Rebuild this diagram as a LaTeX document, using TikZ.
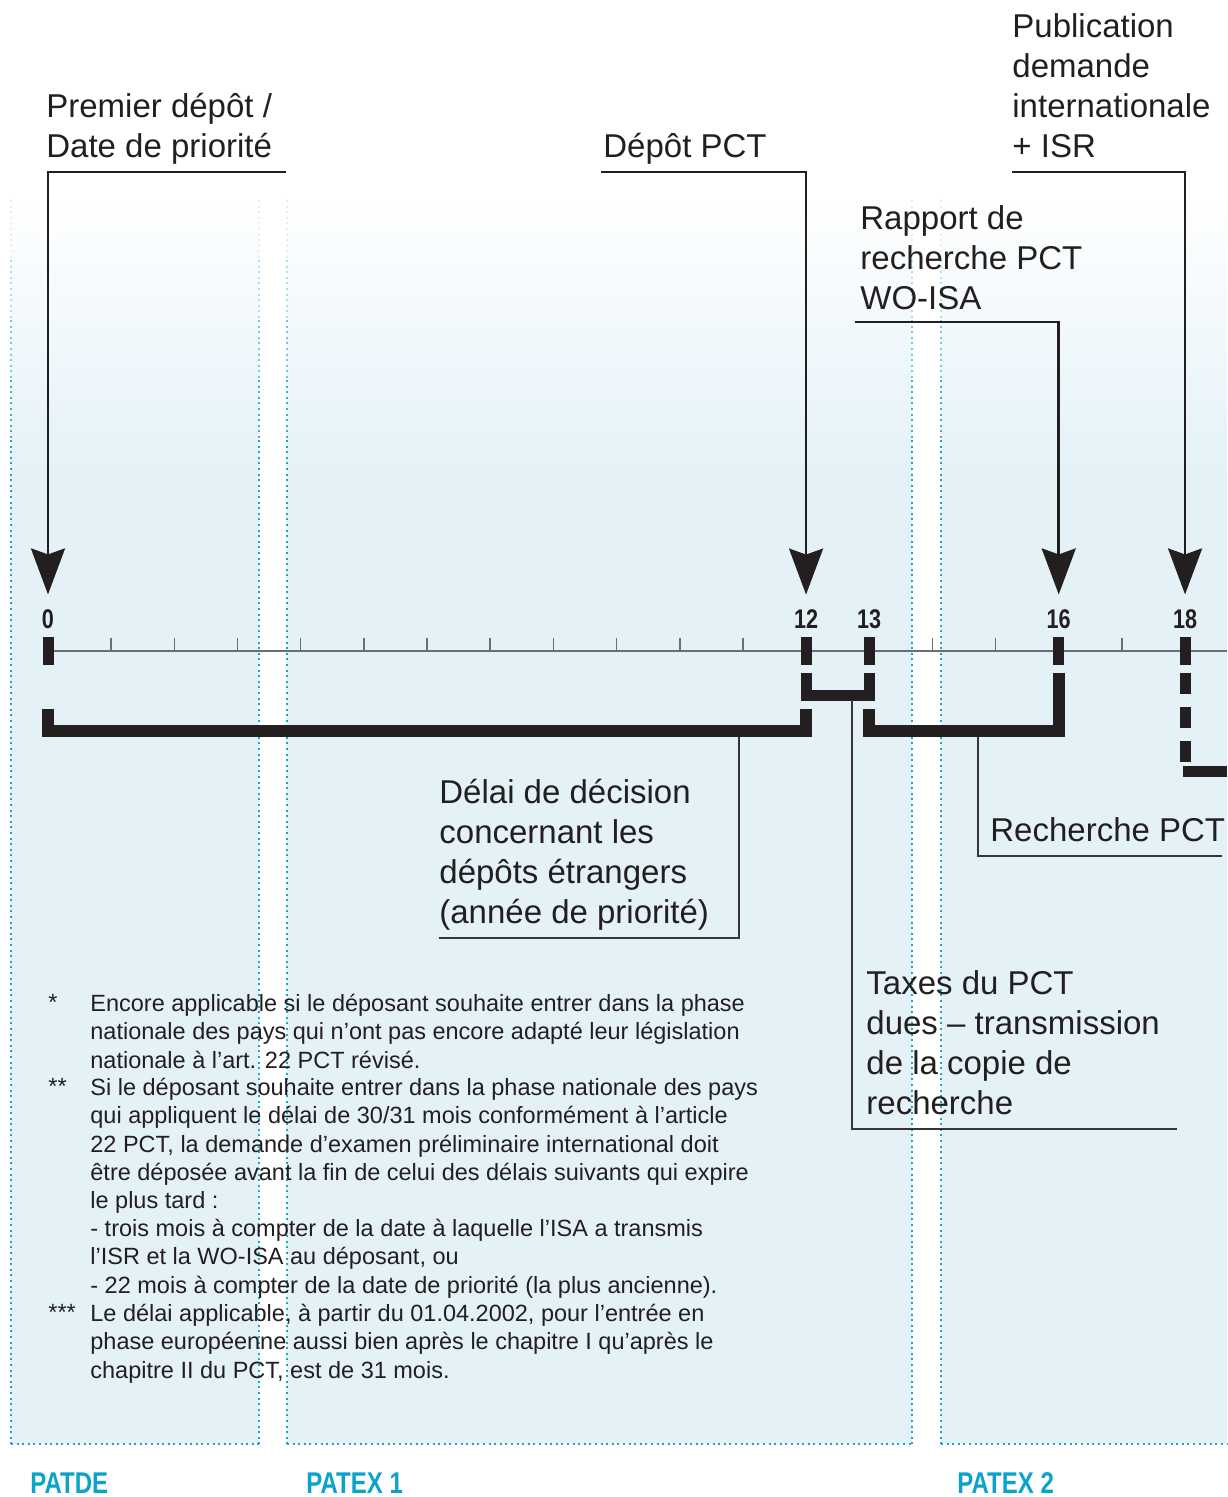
\documentclass[tikz,border=0pt]{standalone}
\usepackage{fontspec}
\setmainfont{Liberation Sans}
\newfontfamily\condfont[FakeStretch=0.8]{Liberation Sans}
\usepackage{tikz}
\usetikzlibrary{arrows.meta,positioning}
\definecolor{bgblue}{HTML}{E4F2F8}
\definecolor{dotblue}{HTML}{14A7CC}
\definecolor{zoneblue}{HTML}{0BA3CB}
\definecolor{ink}{HTML}{231F20}
\definecolor{axisgray}{HTML}{6D6E70}
\newcommand{\mx}[1]{48+63.17*#1}

\begin{document}
\begin{tikzpicture}[x=0.5pt,y=-0.5pt,>={Stealth[length=23pt,width=17pt,inset=3pt]},
                    font=\fontsize{16.5}{20}\selectfont,text=ink]
\tikzstyle{fade}=[top color=white,bottom color=bgblue,draw=none]
\tikzstyle{border}=[line width=1.1pt,dash pattern=on 1pt off 1.8pt]
\tikzstyle{axis}=[axisgray,line width=0.8pt]
\tikzstyle{markbar}=[ink,line width=5.5pt]
\tikzstyle{span}=[ink,line width=6pt,line join=miter]
\tikzstyle{pointer}=[->,ink,line width=1.25pt]
\tikzstyle{leader}=[ink!90,line width=1.25pt]
\tikzstyle{num}=[font=\condfont\fontsize{13.5}{16}\bfseries\selectfont,inner sep=0pt,outer sep=7.5pt]
\tikzstyle{lbl}=[align=left,inner xsep=0pt,inner ysep=0pt,text depth=7pt]
\tikzstyle{fnote}=[align=left,inner sep=0pt,font=\fontsize{11.75}{14.1}\selectfont]
\tikzstyle{zone}=[font=\condfont\fontsize{15}{18}\bfseries\selectfont,text=zoneblue,inner sep=0pt]
\useasboundingbox (0,0) rectangle (1227,1497);

% panels
\foreach \xa/\xb in {11/259,287/912,941/1227} {
  \fill[fade] (\xa,190) rectangle (\xb,471);
  \fill[bgblue] (\xa,470) rectangle (\xb,1444);
}
\foreach \ya/\yb/\op in {200/260/15,260/320/35,320/380/60,380/440/85,440/1444/100}
  \foreach \bx in {11,259,287,912,941}
    \draw[border,draw=dotblue!\op!white] (\bx,\ya) -- (\bx,\yb);
\foreach \xa/\xb in {11/259,287/912,941/1227}
  \draw[border,draw=dotblue] (\xa,1444) -- (\xb,1444);

\node[zone,anchor=west] (zde) at (30,1483) {PATDE};
\node[zone,anchor=west] (zex1) at (306,1483) {PATEX 1};
\node[zone,anchor=west] (zex2) at (957,1483) {PATEX 2};

% timeline
\foreach \m in {0,12,13,16,18} {
  \coordinate (m\m) at (\mx{\m},651);
  \node[num] (n\m) at (\mx{\m},619) {\m};
}
\draw[axis] (m0) -- (1227,651);
\foreach \m in {1,...,18}
  \draw[axis] (\mx{\m},651) -- ++(0,-13);
\foreach \m in {0,12,13,16,18}
  \draw[markbar] (\mx{\m},637) -- (\mx{\m},665);

\draw[span] (\mx{0},709) -- (\mx{0},731) -- (\mx{12},731) -- (\mx{12},709);
\draw[span,line width=5.5pt] (\mx{12},673) -- (\mx{12},695) -- (\mx{13},695) -- (\mx{13},673);
\draw[span] (\mx{13},709) -- (\mx{13},731) -- (\mx{16},731) -- (\mx{16},673);
\draw[markbar,dash pattern=on 10.5pt off 6.5pt] (\mx{18},673) -- (\mx{18},762);
\draw[span,line width=5.5pt] (1183,771) -- (1227,771);

\coordinate (d012) at (739,737);
\coordinate (d1213) at (852,700);
\coordinate (d1316) at (978,737);

% labels
\node[lbl,anchor=south west] (premier) at (46,172) {Premier dépôt /\\Date de priorité};
\node[lbl,anchor=south west] (depot) at (603,172) {Dépôt PCT};
\node[lbl,anchor=south west] (rapport) at (860,324) {Rapport de\\recherche PCT\\WO-ISA};
\node[lbl,anchor=south west] (publi) at (1012,172) {Publication\\demande\\internationale\\+ ISR};
\node[lbl,anchor=south west] (delai) at (439,938) {Délai de décision\\concernant les\\dépôts étrangers\\(année de priorité)};
\node[lbl,anchor=south west] (rech) at (990,856) {Recherche PCT};
\node[lbl,anchor=south west] (taxes) at (866,1129) {Taxes du PCT\\dues – transmission\\de la copie de\\recherche};

\draw[pointer] ([xshift=7pt]premier.south east) -| (n0.north);
\draw[pointer] ([xshift=-1pt]depot.south west) -| (n12.north);
\draw[pointer] ([shift={(-2.5pt,1pt)}]rapport.south west) -| (n16.north);
\draw[pointer] (publi.south west) -| (n18.north);

\draw[leader] (d012) |- (delai.south west);
\draw[leader] (d1316) |- ([xshift=-2pt]rech.south east);
\draw[leader] (d1213) |- ([xshift=8.5pt]taxes.south east);

% footnotes
\node[fnote,anchor=north west] (f1) at (90,994) {Encore applicable si le déposant souhaite entrer dans la phase\\nationale des pays qui n’ont pas encore adapté leur législation\\nationale à l’art. 22 PCT révisé.};
\node[fnote,anchor=north west] (f2) at (90,1078) {Si le déposant souhaite entrer dans la phase nationale des pays\\qui appliquent le délai de 30/31 mois conformément à l’article\\22 PCT, la demande d’examen préliminaire international doit\\être déposée avant la fin de celui des délais suivants qui expire\\le plus tard :\\- trois mois à compter de la date à laquelle l’ISA a transmis\\l’ISR et la WO-ISA au déposant, ou\\- 22 mois à compter de la date de priorité (la plus ancienne).};
\node[fnote,anchor=north west] (f3) at (90,1304) {Le délai applicable, à partir du 01.04.2002, pour l’entrée en\\phase européenne aussi bien après le chapitre I qu’après le\\chapitre II du PCT, est de 31 mois.};
\node[fnote,anchor=north west] (s1) at ([xshift=-21pt]f1.north west) {*};
\node[fnote,anchor=north west] (s2) at ([xshift=-21pt]f2.north west) {**};
\node[fnote,anchor=north west] (s3) at ([xshift=-21pt]f3.north west) {***};
\end{tikzpicture}
\end{document}
